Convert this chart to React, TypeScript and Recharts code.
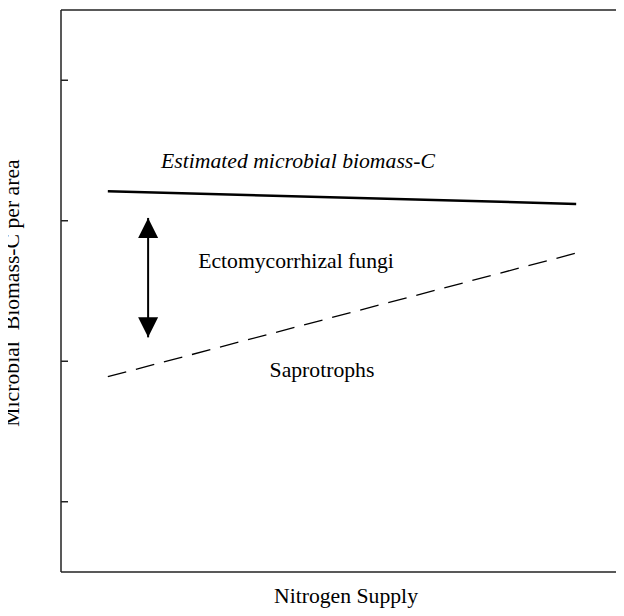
import { ComposedChart, Customized, Line, XAxis, YAxis } from "recharts";

// nitrogen supply (arbitrary units) at the two ends of each trend line
const supply = [1, 11];
const totalBiomass = [2.71, 2.62];
const saprotrophs = [1.39, 2.27];

// double-headed arrow showing the ectomycorrhizal share
const arrowX = [1.86, 1.86];
const arrowY = [2.52, 1.67];

const yTicks = [0.5, 1.5, 2.5, 3.5];

const data = supply.map((s, i) => ({ supply: s, total: totalBiomass[i], sap: saprotrophs[i] }));
const arrowData = arrowX.map((x, i) => ({ supply: x, arrow: arrowY[i] }));

const ink = "#222";
const font = "'Liberation Serif', 'Times New Roman', serif";

const ArrowHead = (props: any) => {
  const { cx, cy, index } = props;
  if (cx == null || cy == null) return null;
  const d = index === 0 ? 20 : -20;
  return (
    <polygon
      key={`head-${index}`}
      points={`${cx},${cy} ${cx - 10},${cy + d} ${cx + 10},${cy + d}`}
      fill="#000"
    />
  );
};

const Texts = () => (
  <g fontFamily={font} fontSize={21.7} fill="#000">
    <text x={298} y={168} textAnchor="middle" fontStyle="italic">
      Estimated microbial biomass-C
    </text>
    <text x={296} y={268} textAnchor="middle">
      Ectomycorrhizal fungi
    </text>
    <text x={322} y={377} textAnchor="middle">
      Saprotrophs
    </text>
    <text x={346} y={603} textAnchor="middle">
      Nitrogen Supply
    </text>
    <text x={18.5} y={293} textAnchor="middle" transform="rotate(-90, 18.5, 293)">
      {"Microbial\u00a0 Biomass-C per area"}
    </text>
  </g>
);

export default function App() {
  return (
    <div style={{ margin: -8, width: 624, height: 616 }}>
      <ComposedChart
        width={624}
        height={616}
        data={data}
        margin={{ top: 10, right: 1, left: 0, bottom: 0 }}
      >
        <XAxis
          xAxisId="b"
          type="number"
          dataKey="supply"
          domain={[0, 12]}
          orientation="bottom"
          height={44}
          tick={false}
          tickLine={false}
          axisLine={{ stroke: ink, strokeWidth: 1.5 }}
        />
        <XAxis
          xAxisId="t"
          type="number"
          dataKey="supply"
          domain={[0, 12]}
          orientation="top"
          mirror
          tick={false}
          tickLine={false}
          axisLine={{ stroke: ink, strokeWidth: 1.5 }}
        />
        <YAxis
          yAxisId="title"
          orientation="left"
          width={61}
          type="number"
          domain={[0, 4]}
          tick={false}
          tickLine={false}
          axisLine={false}
        />
        <YAxis
          yAxisId="l"
          orientation="left"
          mirror
          type="number"
          domain={[0, 4]}
          ticks={yTicks}
          tickFormatter={() => ""}
          tickSize={7}
          tickLine={{ stroke: ink, strokeWidth: 1.5 }}
          axisLine={{ stroke: ink, strokeWidth: 1.5 }}
        />
        <YAxis
          yAxisId="r"
          orientation="right"
          mirror
          type="number"
          domain={[0, 4]}
          ticks={yTicks}
          tickFormatter={() => ""}
          tickSize={7}
          tickLine={{ stroke: ink, strokeWidth: 1.5 }}
          axisLine={{ stroke: ink, strokeWidth: 1.5 }}
        />
        <Line
          xAxisId="b"
          yAxisId="l"
          type="linear"
          dataKey="total"
          stroke="#000"
          strokeWidth={2.5}
          dot={false}
          isAnimationActive={false}
        />
        <Line
          xAxisId="b"
          yAxisId="l"
          type="linear"
          dataKey="sap"
          stroke="#000"
          strokeWidth={1.3}
          strokeDasharray="19 10"
          dot={false}
          isAnimationActive={false}
        />
        <Line
          xAxisId="b"
          yAxisId="l"
          type="linear"
          data={arrowData}
          dataKey="arrow"
          stroke="#000"
          strokeWidth={2}
          dot={ArrowHead}
          isAnimationActive={false}
        />
        <Customized component={Texts} />
      </ComposedChart>
    </div>
  );
}
